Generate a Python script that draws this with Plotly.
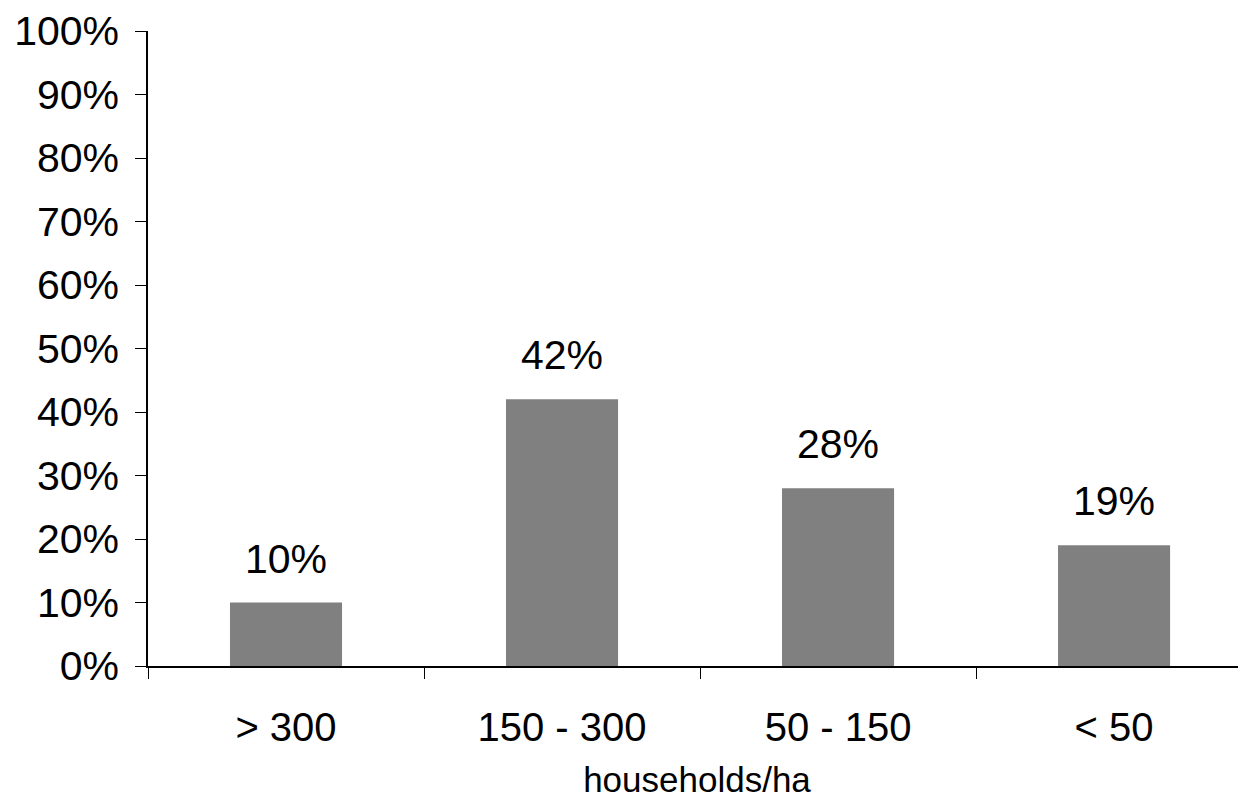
import plotly.graph_objects as go

categories = ["> 300", "150 - 300", "50 - 150", "< 50"]
values = [0.10, 0.42, 0.28, 0.19]
labels = ["10%", "42%", "28%", "19%"]
y_ticks = [i / 10 for i in range(11)]

FONT = "Liberation Sans, Arial, sans-serif"

fig = go.Figure()
fig.add_trace(go.Bar(
    x=categories, y=values, width=0.406,
    marker=dict(color="#808080", line=dict(width=0)),
    hoverinfo="skip",
))

for c, v, t in zip(categories, values, labels):
    fig.add_annotation(x=c, y=v, text=t, showarrow=False, yanchor="bottom",
                       yshift=19, font=dict(family=FONT, size=41, color="black"))

fig.update_layout(
    width=1238, height=792,
    margin=dict(l=140, r=0, t=18, b=134),
    paper_bgcolor="white", plot_bgcolor="white",
    font=dict(family=FONT, size=41, color="black"),
    showlegend=False,
)
fig.update_xaxes(
    type="category", range=[-0.5, 3.478],
    showline=True, linecolor="black", linewidth=1.5,
    ticks="outside", tickson="boundaries", ticklen=11, tickcolor="black", tickwidth=1,
    showgrid=False, zeroline=False,
    ticklabelstandoff=25,
    title=dict(text="households/ha", font=dict(size=35), standoff=20),
    tickfont=dict(size=40),
)
fig.update_yaxes(
    range=[0, 1.0001], tickvals=y_ticks, tickformat=".0%",
    showline=True, linecolor="black", linewidth=1.5,
    ticks="outside", ticklen=11, tickcolor="black", tickwidth=1,
    showgrid=False, zeroline=False,
    ticklabelstandoff=8, ticklabeloverflow="allow",
    tickfont=dict(size=41),
)

fig.write_html("out.html")
